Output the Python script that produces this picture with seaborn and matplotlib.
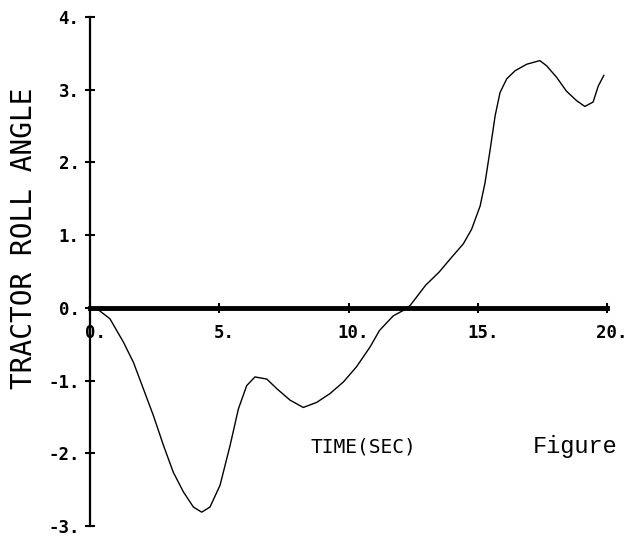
"""
Tractor roll angle vs. time, redrawn from a scanned plotter chart.
"""

import matplotlib
matplotlib.use('Agg')
import matplotlib.pyplot as plt
import matplotlib.transforms as mtransforms
import pandas as pd
import seaborn as sns

# 数据
time_sec = [0.0, 0.26, 0.77, 1.29, 1.68, 2.06, 2.45, 2.84, 3.22, 3.61, 4.0,
            4.32, 4.64, 5.03, 5.42, 5.74, 6.06, 6.38, 6.84, 7.22, 7.74, 8.25,
            8.77, 9.28, 9.80, 10.31, 10.83, 11.2, 11.73, 12.25, 12.4, 12.98,
            13.5, 14.0, 14.44, 14.76, 15.09, 15.28, 15.48, 15.67, 15.86,
            16.12, 16.44, 16.89, 17.4, 17.66, 18.05, 18.43, 18.82, 19.14,
            19.46, 19.66, 19.88]
roll_angle = [0.0, -0.01, -0.15, -0.47, -0.75, -1.11, -1.48, -1.89, -2.26,
              -2.53, -2.74, -2.81, -2.74, -2.44, -1.89, -1.39, -1.07, -0.95,
              -0.98, -1.11, -1.27, -1.37, -1.30, -1.18, -1.02, -0.81, -0.54,
              -0.31, -0.11, -0.01, 0.04, 0.31, 0.49, 0.70, 0.88, 1.08, 1.40,
              1.72, 2.18, 2.64, 2.96, 3.15, 3.26, 3.35, 3.40, 3.33, 3.17, 2.98,
              2.85, 2.77, 2.83, 3.05, 3.20]

x_ticks = [0, 5, 10, 15, 20]
x_tick_labels = ['0.', '5.', '10.', '15.', '20.']
y_ticks = [-3, -2, -1, 0, 1, 2, 3, 4]
y_tick_labels = ['-3.', '-2.', '-1.', '0.', '1.', '2.', '3.', '4.']

df = pd.DataFrame({'time': time_sec, 'roll': roll_angle})

sns.set_style('ticks')
plt.rcParams['font.family'] = ['DejaVu Sans']

fig = plt.figure(figsize=(6.29, 5.36), dpi=100)
ax = fig.add_axes([0.1431, 0.0187, 0.822, 0.9496])

sns.lineplot(data=df, x='time', y='roll', ax=ax, color='black',
             linewidth=1.0, estimator=None, sort=False)

ax.set_xlim(0, 20)
ax.set_ylim(-3, 4)

# 坐标轴: left axis at t=0, time axis on the zero line
for side in ['top', 'right']:
    ax.spines[side].set_visible(False)
ax.spines['left'].set_position(('data', 0))
ax.spines['bottom'].set_position(('data', 0))
ax.spines['left'].set_linewidth(1.6)
ax.spines['bottom'].set_linewidth(3.5)
ax.spines['left'].set_color('black')
ax.spines['bottom'].set_color('black')

tick_font = dict(family='DejaVu Sans Mono', weight='bold', size=12.5)
ax.set_xticks(x_ticks, labels=x_tick_labels, fontdict=tick_font)
ax.set_yticks(y_ticks, labels=y_tick_labels, fontdict=tick_font)
ax.tick_params(axis='both', direction='inout', length=7, width=1.5,
               colors='black')
ax.tick_params(axis='x', pad=8)
ax.tick_params(axis='y', pad=4)

# 数字居中于刻度 (trailing dot hangs to the right)
shift = mtransforms.ScaledTranslation(0.05, 0, fig.dpi_scale_trans)
for lbl in ax.get_xticklabels():
    lbl.set_transform(lbl.get_transform() + shift)

ax.set_ylabel('TRACTOR ROLL ANGLE', family='DejaVu Sans Mono', fontsize=20,
              color='black')
ax.yaxis.set_label_coords(-0.1277, 0.566)
ax.yaxis.label.set_va('center')

ax.set_xlabel('TIME(SEC)', family='DejaVu Sans Mono', fontsize=14,
              color='black')
ax.xaxis.set_label_coords(0.528, 0.155)
ax.xaxis.label.set_va('center')

ax.text(0.857, 0.1434, 'Figure', transform=ax.transAxes, ha='left',
        va='baseline', family='Liberation Mono', fontsize=17, color='black')

fig.savefig('out.png', dpi=100)
